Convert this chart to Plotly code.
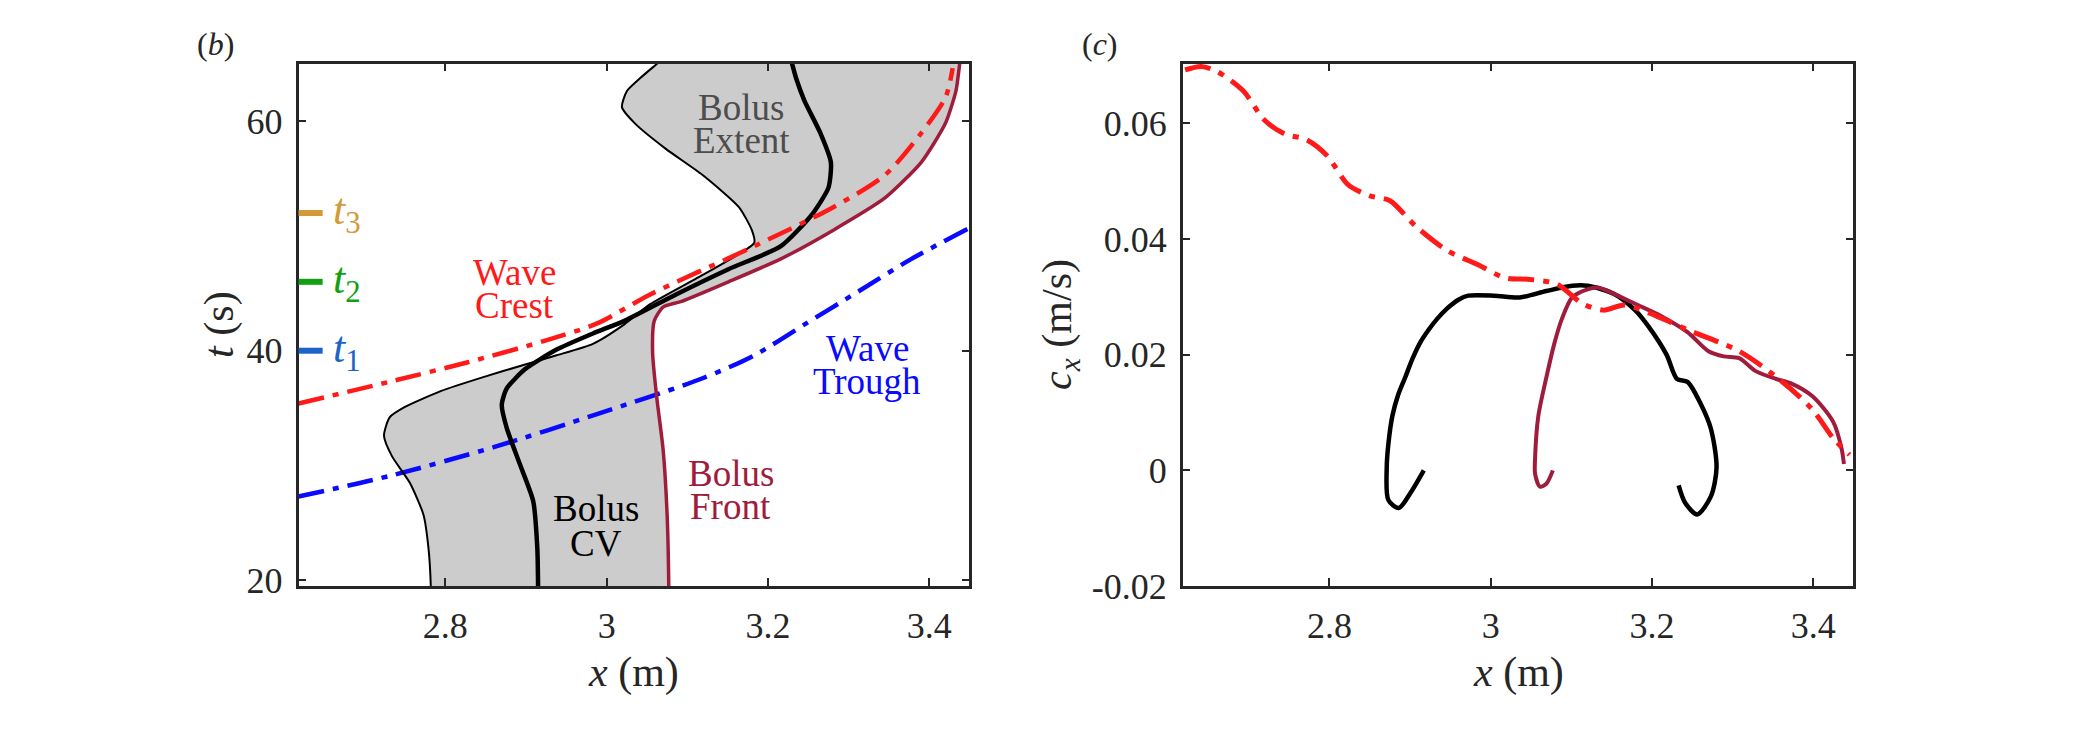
import plotly.graph_objects as go

# ---------------- data: panel (b) ----------------
left_t = [19.3, 19.5, 22.9, 25.7, 28.5, 30.8, 32.6, 34.2, 35.1, 36.5, 37.7, 38.8, 39.6, 40.6, 42.3,
          44.05, 46.6, 49.4, 50.5, 52.5, 55.3, 57.6, 59.8, 61.2, 62.6, 63.7, 64.9, 65.2]
left_x = [2.782, 2.782, 2.779, 2.773, 2.756, 2.734, 2.724, 2.731, 2.750, 2.795, 2.847, 2.899, 2.938, 2.983, 3.022,
          3.054, 3.119, 3.183, 3.180, 3.164, 3.119, 3.073, 3.035, 3.019, 3.025, 3.041, 3.061, 3.066]

cv_t = [19.3, 19.5, 22.9, 26.9, 30.2, 33.3, 35.3, 36.7, 38.4, 40.1, 41.5, 42.6, 44.9, 47.1, 49.1,
        51.9, 54.2, 56.4, 58.95, 61.8, 63.7, 64.95, 65.2]
cv_x = [2.915, 2.915, 2.914, 2.909, 2.892, 2.876, 2.870, 2.876, 2.899, 2.938, 2.983, 3.022, 3.086, 3.151, 3.216,
        3.255, 3.275, 3.278, 3.265, 3.245, 3.235, 3.230, 3.229]

front_t = [19.3, 19.5, 25.7, 31.4, 36.0, 39.8, 42.6, 43.8, 44.3, 46.0, 48.0, 50.5, 53.3, 56.4, 59.8, 62.6, 64.6, 65.2]
front_x = [3.077, 3.077, 3.075, 3.070, 3.062, 3.057, 3.059, 3.070, 3.093, 3.151, 3.216, 3.281, 3.345, 3.390, 3.420, 3.433, 3.437, 3.438]

crest_x = [2.618, 2.731, 2.828, 2.925, 2.989, 3.054, 3.183, 3.281, 3.345, 3.390, 3.420, 3.429]
crest_t = [35.4, 37.3, 39.0, 40.9, 42.4, 44.9, 49.1, 52.5, 55.3, 58.95, 62.05, 64.6]

trough_x = [2.618, 2.731, 2.860, 2.989, 3.119, 3.183, 3.248, 3.313, 3.378, 3.450]
trough_t = [27.3, 29.1, 31.6, 34.5, 37.6, 39.6, 42.4, 45.2, 48.0, 50.7]

t_marks = [52, 46, 40]
t_mark_labels = ["3", "2", "1"]
t_mark_colors = ["#D39A3A", "#12A012", "#1E64C8"]

# ---------------- data: panel (c) ----------------
crest_cx_x = [2.621, 2.641, 2.661, 2.693, 2.719, 2.745, 2.771, 2.797, 2.823, 2.849, 2.875, 2.907, 2.946,
              2.985, 3.017, 3.049, 3.082, 3.114, 3.140, 3.166, 3.205, 3.244, 3.308, 3.360, 3.399, 3.425, 3.445]
crest_cx = [0.0692, 0.0698, 0.0689, 0.0656, 0.0606, 0.0581, 0.0572, 0.0544, 0.0494, 0.0475, 0.0466, 0.0422, 0.0380,
            0.0355, 0.0333, 0.0330, 0.0322, 0.0288, 0.0277, 0.0286, 0.0267, 0.0243, 0.0206, 0.0155, 0.0105, 0.0055, 0.0027]

cv_cx_x = [2.917, 2.900, 2.886, 2.873, 2.871, 2.873, 2.878, 2.885, 2.894, 2.903, 2.913, 2.923, 2.933, 2.946, 2.960,
           2.972, 3.004, 3.036, 3.069, 3.101, 3.120, 3.153, 3.179, 3.196, 3.218, 3.231, 3.244, 3.260, 3.273, 3.280,
           3.273, 3.256, 3.241, 3.233]
cv_cx = [0.0, -0.0040, -0.0065, -0.0051, 0.0005, 0.0045, 0.0094, 0.0130, 0.0161, 0.0193, 0.0222, 0.0243, 0.0261,
         0.0280, 0.0295, 0.0302, 0.0302, 0.0299, 0.0310, 0.0319, 0.0319, 0.0305, 0.0277, 0.0248, 0.0200, 0.0158,
         0.0153, 0.0116, 0.0072, 0.0005, -0.0045, -0.0076, -0.0056, -0.0026]

front_cx_x = [3.077, 3.069, 3.061, 3.055, 3.055, 3.059, 3.069, 3.079, 3.088, 3.101, 3.120, 3.133, 3.153, 3.179,
              3.211, 3.244, 3.270, 3.289, 3.308, 3.328, 3.354, 3.373, 3.399, 3.425, 3.435, 3.438]
front_cx = [0.0, -0.0023, -0.0028, -0.0006, 0.0022, 0.0094, 0.0161, 0.0220, 0.0261, 0.0299, 0.0313, 0.0316, 0.0305, 0.0288,
            0.0267, 0.0239, 0.0206, 0.0197, 0.0194, 0.0172, 0.0158, 0.0150, 0.0128, 0.0083, 0.0038, 0.0011]

x_ticks = [2.8, 3.0, 3.2, 3.4]
x_tick_text = ["2.8", "3", "3.2", "3.4"]
t_ticks = [20, 40, 60]
cx_ticks = [-0.02, 0, 0.02, 0.04, 0.06]
cx_tick_text = ["-0.02", "0", "0.02", "0.04", "0.06"]

# ---------------- styles ----------------
FONT = "Liberation Serif"
AX = "#262626"
RED = "#FF1A1A"
BLUE = "#0A0AFF"
FRONT = "#A01C3C"
DASHDOT = "26px,9px,6px,9px"
W, H = 2084, 730

fig = go.Figure()

# panel (b)
fig.add_trace(go.Scatter(
    x=left_x + front_x[::-1], y=left_t + front_t[::-1], mode="lines", fill="toself",
    fillcolor="#CCCCCC", line=dict(width=0, color="#CCCCCC", shape="spline", smoothing=0.6),
    xaxis="x", yaxis="y", hoverinfo="skip", showlegend=False))
fig.add_trace(go.Scatter(x=trough_x, y=trough_t, mode="lines",
                         line=dict(color=BLUE, width=4.5, dash=DASHDOT, shape="spline", smoothing=0.8),
                         xaxis="x", yaxis="y", showlegend=False))
fig.add_trace(go.Scatter(x=left_x, y=left_t, mode="lines",
                         line=dict(color="black", width=2, shape="spline", smoothing=0.6),
                         xaxis="x", yaxis="y", showlegend=False))
fig.add_trace(go.Scatter(x=cv_x, y=cv_t, mode="lines",
                         line=dict(color="black", width=4.5, shape="spline", smoothing=0.6),
                         xaxis="x", yaxis="y", showlegend=False))
fig.add_trace(go.Scatter(x=front_x, y=front_t, mode="lines",
                         line=dict(color=FRONT, width=3.5, shape="spline", smoothing=0.6),
                         xaxis="x", yaxis="y", showlegend=False))
fig.add_trace(go.Scatter(x=crest_x, y=crest_t, mode="lines",
                         line=dict(color=RED, width=4.5, dash=DASHDOT, shape="spline", smoothing=0.8),
                         xaxis="x", yaxis="y", showlegend=False))

# panel (c)
fig.add_trace(go.Scatter(x=cv_cx_x, y=cv_cx, mode="lines",
                         line=dict(color="black", width=4.5, shape="spline", smoothing=0.8),
                         xaxis="x2", yaxis="y2", showlegend=False))
fig.add_trace(go.Scatter(x=front_cx_x, y=front_cx, mode="lines",
                         line=dict(color=FRONT, width=4, shape="spline", smoothing=0.8),
                         xaxis="x2", yaxis="y2", showlegend=False))
fig.add_trace(go.Scatter(x=crest_cx_x, y=crest_cx, mode="lines",
                         line=dict(color=RED, width=5, dash=DASHDOT, shape="spline", smoothing=0.8),
                         xaxis="x2", yaxis="y2", showlegend=False))

axis_common = dict(showline=True, mirror="ticks", linecolor=AX, linewidth=2.5, ticks="inside",
                   ticklen=8, tickwidth=2, tickcolor=AX, showgrid=False, zeroline=False,
                   tickfont=dict(family=FONT, size=36, color=AX), ticklabelstandoff=6)

dom_b = [298.5 / W, 969.3 / W]
dom_c = [1182.7 / W, 1853.3 / W]
dom_y = [1 - 603.5 / H, 1 - 65.5 / H]

fig.update_layout(
    width=W, height=H, margin=dict(l=0, r=0, t=0, b=0),
    paper_bgcolor="white", plot_bgcolor="white",
    font=dict(family=FONT),
    xaxis=dict(domain=dom_b, range=[2.618, 3.4496], tickvals=x_ticks, ticktext=x_tick_text,
               anchor="y", **axis_common),
    yaxis=dict(domain=dom_y, range=[19.5, 65.0], tickvals=t_ticks, anchor="x", **axis_common),
    xaxis2=dict(domain=dom_c, range=[2.618, 3.4496], tickvals=x_ticks, ticktext=x_tick_text,
                anchor="y2", **axis_common),
    yaxis2=dict(domain=dom_y, range=[-0.02, 0.0703], tickvals=cx_ticks, ticktext=cx_tick_text,
                anchor="x2", **axis_common),
)

# t markers on panel (b)
for tv, lab, col in zip(t_marks, t_mark_labels, t_mark_colors):
    fig.add_shape(type="line", xref="x domain", yref="y", x0=0, x1=0.036, y0=tv, y1=tv,
                  line=dict(color=col, width=6), layer="above")
    fig.add_annotation(xref="x domain", yref="y", x=0.048, y=tv, xanchor="left", yanchor="middle",
                       text=f"<i>t</i><sub>{lab}</sub>", showarrow=False,
                       font=dict(family=FONT, size=44, color=col))

# in-plot labels (one line each)
labels = [
    ("Bolus", 3.167, 61.2, "#4D4D4D"), ("Extent", 3.167, 58.3, "#4D4D4D"),
    ("Wave", 2.886, 46.8, RED), ("Crest", 2.886, 43.9, RED),
    ("Wave", 3.323, 40.2, BLUE), ("Trough", 3.323, 37.3, BLUE),
    ("Bolus", 3.154, 29.3, FRONT), ("Front", 3.154, 26.4, FRONT),
    ("Bolus", 2.987, 26.3, "black"), ("CV", 2.987, 23.2, "black"),
]
for txt, xx, yy, col in labels:
    fig.add_annotation(xref="x", yref="y", x=xx, y=yy, text=txt, showarrow=False,
                       xanchor="center", yanchor="middle",
                       font=dict(family=FONT, size=37, color=col))

# axis titles and panel letters
fig.add_annotation(xref="paper", yref="paper", x=(298.5 + 969.3) / 2 / W, y=1 - 692 / H,
                   text="<i>x</i> (m)", showarrow=False, xanchor="center", yanchor="middle",
                   font=dict(family=FONT, size=42, color=AX))
fig.add_annotation(xref="paper", yref="paper", x=(1182.7 + 1853.3) / 2 / W, y=1 - 692 / H,
                   text="<i>x</i> (m)", showarrow=False, xanchor="center", yanchor="middle",
                   font=dict(family=FONT, size=42, color=AX))
fig.add_annotation(xref="paper", yref="paper", x=220 / W, y=1 - 334.5 / H, textangle=-90,
                   text="<i>t</i> (s)", showarrow=False, xanchor="center", yanchor="middle",
                   font=dict(family=FONT, size=42, color=AX))
fig.add_annotation(xref="paper", yref="paper", x=1060 / W, y=1 - 334.5 / H, textangle=-90,
                   text="<i>c</i><sub><i>x</i></sub> (m/s)", showarrow=False, xanchor="center",
                   yanchor="middle", font=dict(family=FONT, size=42, color=AX))
fig.add_annotation(xref="paper", yref="paper", x=215 / W, y=1 - 45 / H,
                   text="(<i>b</i>)", showarrow=False, xanchor="center", yanchor="middle",
                   font=dict(family=FONT, size=32, color=AX))
fig.add_annotation(xref="paper", yref="paper", x=1100 / W, y=1 - 45 / H,
                   text="(<i>c</i>)", showarrow=False, xanchor="center", yanchor="middle",
                   font=dict(family=FONT, size=32, color=AX))

fig.write_html("out.html")
